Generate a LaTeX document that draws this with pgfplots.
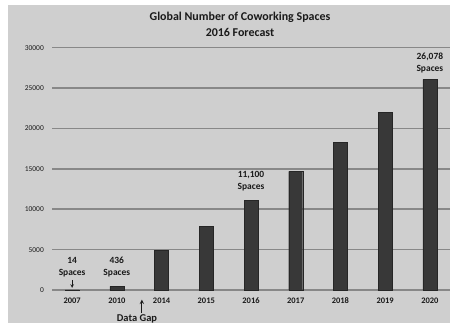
\documentclass[border=0pt]{standalone}
\usepackage{pgfplots}
\pgfplotsset{compat=1.18}
\usepackage{fontspec}
\setmainfont{Carlito}
\definecolor{bg}{HTML}{CFCFCF}
\definecolor{gridc}{HTML}{888888}
\definecolor{barc}{HTML}{383838}
\definecolor{txt}{HTML}{1A1A1A}
\begin{document}
\begin{tikzpicture}
\path[use as bounding box] (0bp,0bp) rectangle (450bp,323bp);
\fill[white] (0bp,0bp) rectangle (450bp,323bp);
\fill[bg] (8bp,0bp) rectangle (450bp,318bp);
\node[font=\bfseries\fontsize{12}{16}\selectfont, align=center, text=txt] at (240bp,299bp) {Global Number of Coworking Spaces\\2016 Forecast};
\begin{axis}[
  at={(52bp,33bp)}, anchor=south west,
  scale only axis, width=398bp, height=242.3bp,
  xmin=-0.45, xmax=8.45, ymin=0, ymax=30000,
  ybar, bar width=14bp,
  axis lines=left, axis line style={draw=none},
  major tick length=0pt,
  ymajorgrids, grid style={color=gridc, line width=1.5bp},
  ytick={0,5000,10000,15000,20000,25000,30000},
  scaled y ticks=false,
  /pgf/number format/assume math mode=true,
  /pgf/number format/1000 sep={},
  yticklabel style={font=\fontsize{7.5}{8}\selectfont, text=txt, anchor=east, inner sep=0pt, xshift=-8bp},
  xtick=data,
  xticklabels={2007,2010,2014,2015,2016,2017,2018,2019,2020},
  xticklabel style={font=\bfseries\fontsize{8.5}{9}\selectfont, text=txt, anchor=center, inner sep=0pt, yshift=-11bp},
  clip=false,
]
\addplot[fill=barc, draw=black!85] coordinates {
 (0,14) (1,436) (2,4900) (3,7900) (4,11100) (5,14700) (6,18300) (7,22000) (8,26078)
};
\node[font=\bfseries\fontsize{9.5}{12}\selectfont, align=center, text=txt] at (axis cs:0,2850) {14\\Spaces};
\node[font=\bfseries\fontsize{9.5}{12}\selectfont, align=center, text=txt] at (axis cs:1,2850) {436\\Spaces};
\node[font=\bfseries\fontsize{9.5}{12}\selectfont, align=center, text=txt] at (axis cs:4,13524) {11,100\\Spaces};
\node[font=\bfseries\fontsize{9.5}{12}\selectfont, align=center, text=txt] at (axis cs:8,28164) {26,078\\Spaces};
\draw[->, >=stealth, txt, line width=0.7bp] (axis cs:0,1250) -- (axis cs:0,250);
\draw[->, >=stealth, txt, line width=0.9bp] (axis cs:1.56,-2850) -- (axis cs:1.56,-1200);
\node[font=\bfseries\fontsize{10.5}{11}\selectfont, text=txt] at (axis cs:1.45,-3600) {Data Gap};
\end{axis}
\end{tikzpicture}
\end{document}
